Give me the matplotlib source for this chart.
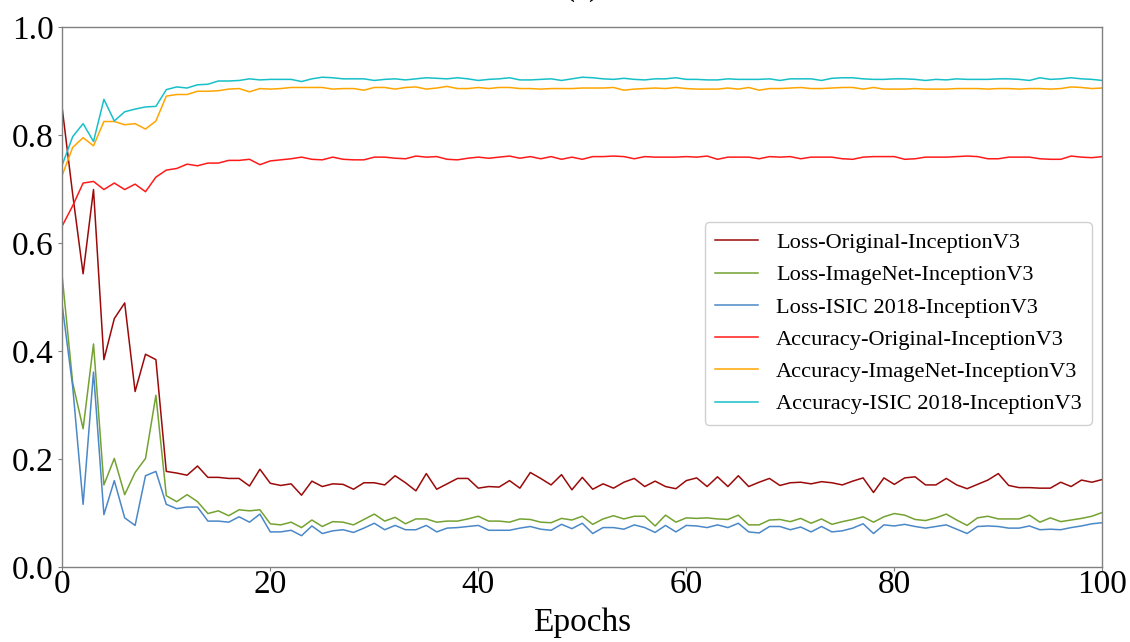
import matplotlib
matplotlib.use("Agg")
import matplotlib.pyplot as plt
import numpy as np

plt.rcParams['font.family'] = ['Liberation Serif', 'DejaVu Serif']

epochs = np.arange(0, 101)

loss_original = [
    0.848, 0.690, 0.543, 0.699, 0.384, 0.460, 0.489, 0.325, 0.394, 0.384,
    0.177, 0.174, 0.170, 0.187, 0.166, 0.166, 0.164, 0.164, 0.150, 0.181,
    0.155, 0.151, 0.154, 0.133, 0.159, 0.149, 0.154, 0.153, 0.144, 0.156,
    0.156, 0.152, 0.169, 0.156, 0.141, 0.173, 0.144, 0.154, 0.164, 0.164,
    0.146, 0.149, 0.148, 0.160, 0.146, 0.175, 0.164, 0.152, 0.171, 0.143,
    0.166, 0.144, 0.154, 0.146, 0.157, 0.164, 0.149, 0.159, 0.149, 0.145,
    0.160, 0.165, 0.149, 0.167, 0.149, 0.169, 0.149, 0.157, 0.164, 0.151,
    0.156, 0.157, 0.154, 0.158, 0.156, 0.152, 0.159, 0.165, 0.138, 0.165,
    0.153, 0.165, 0.167, 0.152, 0.152, 0.164, 0.152, 0.145, 0.153, 0.161,
    0.173, 0.151, 0.147, 0.147, 0.146, 0.146, 0.157, 0.149, 0.161, 0.157,
    0.162]

loss_imagenet = [
    0.536, 0.341, 0.256, 0.413, 0.152, 0.201, 0.134, 0.175, 0.201, 0.318,
    0.132, 0.121, 0.134, 0.121, 0.099, 0.104, 0.095, 0.106, 0.104, 0.106,
    0.080, 0.078, 0.083, 0.073, 0.087, 0.075, 0.084, 0.083, 0.078, 0.088,
    0.098, 0.085, 0.092, 0.080, 0.089, 0.089, 0.083, 0.085, 0.085, 0.089,
    0.094, 0.085, 0.085, 0.083, 0.089, 0.088, 0.083, 0.082, 0.090, 0.087,
    0.094, 0.079, 0.089, 0.095, 0.089, 0.094, 0.094, 0.076, 0.096, 0.083,
    0.091, 0.090, 0.091, 0.089, 0.088, 0.096, 0.078, 0.078, 0.087, 0.088,
    0.084, 0.090, 0.081, 0.089, 0.079, 0.084, 0.088, 0.093, 0.083, 0.093,
    0.099, 0.096, 0.088, 0.086, 0.091, 0.098, 0.087, 0.077, 0.091, 0.094,
    0.089, 0.089, 0.089, 0.096, 0.083, 0.091, 0.084, 0.087, 0.090, 0.094,
    0.101]

loss_isic = [
    0.483, 0.334, 0.116, 0.361, 0.097, 0.160, 0.091, 0.077, 0.169, 0.177,
    0.116, 0.108, 0.111, 0.111, 0.085, 0.085, 0.083, 0.093, 0.083, 0.098,
    0.065, 0.065, 0.068, 0.058, 0.076, 0.062, 0.067, 0.069, 0.064, 0.072,
    0.081, 0.069, 0.077, 0.069, 0.069, 0.077, 0.065, 0.072, 0.073, 0.075,
    0.077, 0.068, 0.068, 0.068, 0.072, 0.075, 0.070, 0.068, 0.079, 0.071,
    0.081, 0.062, 0.073, 0.073, 0.070, 0.078, 0.073, 0.064, 0.077, 0.065,
    0.077, 0.076, 0.073, 0.078, 0.073, 0.081, 0.065, 0.063, 0.075, 0.075,
    0.069, 0.074, 0.065, 0.075, 0.065, 0.067, 0.072, 0.080, 0.062, 0.078,
    0.076, 0.079, 0.075, 0.072, 0.075, 0.078, 0.070, 0.062, 0.075, 0.076,
    0.075, 0.072, 0.072, 0.076, 0.069, 0.070, 0.069, 0.073, 0.076, 0.080,
    0.082]

acc_original = [
    0.632, 0.669, 0.711, 0.714, 0.699, 0.711, 0.699, 0.709, 0.695, 0.722,
    0.735, 0.738, 0.746, 0.743, 0.748, 0.748, 0.753, 0.753, 0.755, 0.745,
    0.752, 0.754, 0.756, 0.759, 0.755, 0.754, 0.759, 0.755, 0.754, 0.754,
    0.759, 0.759, 0.757, 0.756, 0.761, 0.759, 0.760, 0.755, 0.754, 0.757,
    0.759, 0.757, 0.759, 0.761, 0.757, 0.760, 0.756, 0.760, 0.755, 0.759,
    0.755, 0.760, 0.760, 0.761, 0.760, 0.756, 0.760, 0.759, 0.759, 0.759,
    0.760, 0.759, 0.761, 0.755, 0.759, 0.759, 0.759, 0.756, 0.760, 0.759,
    0.760, 0.756, 0.759, 0.759, 0.759, 0.756, 0.755, 0.759, 0.760, 0.760,
    0.760, 0.755, 0.756, 0.759, 0.759, 0.759, 0.760, 0.761, 0.760, 0.756,
    0.756, 0.759, 0.759, 0.759, 0.756, 0.755, 0.755, 0.761, 0.759, 0.758,
    0.760]

acc_imagenet = [
    0.726, 0.777, 0.795, 0.780, 0.825, 0.825, 0.819, 0.821, 0.811, 0.826,
    0.872, 0.875, 0.875, 0.881, 0.881, 0.882, 0.885, 0.886, 0.880, 0.886,
    0.885, 0.886, 0.888, 0.888, 0.888, 0.888, 0.885, 0.886, 0.886, 0.883,
    0.888, 0.888, 0.885, 0.888, 0.889, 0.885, 0.887, 0.890, 0.886, 0.886,
    0.888, 0.886, 0.888, 0.888, 0.886, 0.886, 0.885, 0.886, 0.886, 0.886,
    0.887, 0.887, 0.887, 0.888, 0.883, 0.885, 0.886, 0.887, 0.886, 0.888,
    0.886, 0.885, 0.885, 0.885, 0.887, 0.885, 0.888, 0.883, 0.886, 0.886,
    0.887, 0.888, 0.886, 0.886, 0.887, 0.888, 0.888, 0.885, 0.888, 0.885,
    0.885, 0.885, 0.886, 0.885, 0.885, 0.885, 0.886, 0.886, 0.886, 0.885,
    0.886, 0.886, 0.885, 0.886, 0.886, 0.885, 0.886, 0.889, 0.888, 0.886,
    0.887]

acc_isic = [
    0.745, 0.797, 0.821, 0.788, 0.866, 0.826, 0.843, 0.848, 0.852, 0.853,
    0.884, 0.889, 0.887, 0.893, 0.894, 0.900, 0.900, 0.901, 0.904, 0.902,
    0.903, 0.903, 0.903, 0.899, 0.904, 0.907, 0.906, 0.904, 0.904, 0.904,
    0.901, 0.903, 0.904, 0.902, 0.904, 0.906, 0.905, 0.904, 0.906, 0.904,
    0.901, 0.903, 0.904, 0.906, 0.902, 0.902, 0.903, 0.904, 0.901, 0.904,
    0.907, 0.906, 0.904, 0.903, 0.905, 0.903, 0.902, 0.904, 0.904, 0.906,
    0.903, 0.903, 0.902, 0.902, 0.904, 0.903, 0.903, 0.903, 0.904, 0.901,
    0.904, 0.904, 0.904, 0.901, 0.905, 0.906, 0.906, 0.904, 0.903, 0.903,
    0.904, 0.904, 0.903, 0.901, 0.903, 0.902, 0.904, 0.903, 0.903, 0.903,
    0.904, 0.904, 0.903, 0.901, 0.906, 0.903, 0.904, 0.906, 0.904, 0.903,
    0.901]

labels = ['Loss-Original-InceptionV3', 'Loss-ImageNet-InceptionV3',
          'Loss-ISIC 2018-InceptionV3', 'Accuracy-Original-InceptionV3',
          'Accuracy-ImageNet-InceptionV3', 'Accuracy-ISIC 2018-InceptionV3']
colors = ['#9b0a0a', '#74a232', '#4a88c7', '#ff1a1a', '#ffa500', '#17c0c8']
series = [loss_original, loss_imagenet, loss_isic,
          acc_original, acc_imagenet, acc_isic]

fig = plt.figure(figsize=(11.3, 6.42), dpi=100)
ax = fig.add_axes([62.3 / 1130, 1 - 567 / 642, 1040 / 1130, 540 / 642])

for ys, c, lab in zip(series, colors, labels):
    ax.plot(epochs, ys, color=c, lw=1.1, label=lab)

ax.set_xlim(0, 100)
ax.set_ylim(0, 1.0)
ax.set_xticks([0, 20, 40, 60, 80, 100])
ax.set_yticks([0.0, 0.2, 0.4, 0.6, 0.8, 1.0])
ax.set_yticklabels(['0.0', '0.2', '0.4', '0.6', '0.8', '1.0'])
ax.tick_params(axis='both', labelsize=24, length=3, width=0.8,
               color='#808080', direction='out')
ax.tick_params(axis='x', pad=-1)
ax.tick_params(axis='y', pad=3)
for sp in ax.spines.values():
    sp.set_color('#808080')
    sp.set_linewidth(1.0)

ax.set_xlabel('Epochs', fontsize=24, labelpad=5)

# legend box sits right of centre, about x 708-1092, y 227-420 px
leg = ax.legend(loc='center right', bbox_to_anchor=(0.990, 0.451),
                borderaxespad=0, fontsize=16.1, handlelength=1.95,
                handletextpad=0.8, labelspacing=0.52, borderpad=0.45,
                framealpha=1, edgecolor='#d0d0d0')

# title is clipped by the top edge in the source figure
fig.text(582 / 1130, 1 + 5 / 642, '(a)', fontsize=24, ha='center',
         va='baseline')

fig.savefig('out.png', dpi=100)
